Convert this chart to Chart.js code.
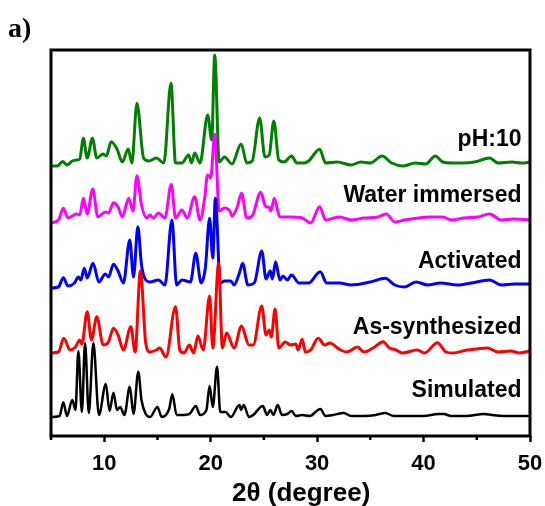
<!DOCTYPE html>
<html>
<head>
<meta charset="utf-8">
<script src="https://cdn.jsdelivr.net/npm/chart.js@4"></script>
<style>
  html, body { margin: 0; padding: 0; background: #fff; }
  canvas { display: block; }
</style>
</head>
<body>
<canvas id="xrd" width="545" height="506"></canvas>
<script>
// 2theta / intensity pairs (intensity in arbitrary units)
const simulated = [[5,0],[5.8,1],[6.16,14.7],[6.5,1],[7.0,17],[7.3,7],[7.57,66],[7.9,5],[8.2,74],[8.55,4],[8.98,74],[9.5,2],[10.15,33],[10.5,6],[10.87,24.3],[11.2,7],[11.5,10],[11.9,2],[12.4,30.3],[12.75,3],[13.2,45.3],[13.5,17],[13.9,3],[14.3,0],[15.0,10],[15.4,0],[16.1,8],[16.4,22.7],[16.8,2],[17.4,2],[18.0,3],[18.6,11],[19.0,2],[19.6,7],[19.9,31],[20.2,10],[20.6,50.3],[20.9,5],[21.4,5],[21.9,0],[22.7,12],[22.85,7],[23.1,12],[23.6,0],[24.0,2],[24.9,11],[25.3,2],[25.6,7],[25.9,2],[26.3,12],[26.7,2],[27.2,3],[27.6,6],[28.0,1],[28.6,2],[29.3,1],[30.3,8],[30.8,1],[31.5,2],[32.5,4],[33.2,1],[34.5,1],[35.5,2],[36.4,4],[37.2,1],[38.5,1],[40,1],[41.4,3],[41.9,3],[42.6,1],[44,1],[45.7,3],[46.4,2],[47.5,1],[50,1]];

const asSynthesized = [[5,1],[5.7,2],[6.2,15.7],[6.8,4],[7.3,7],[7.7,14],[7.9,10],[8.4,42.3],[8.8,14],[9.3,37.3],[9.9,9],[10.4,12],[10.87,25.7],[11.3,19],[11.8,4],[12.5,27.3],[12.9,2],[13.4,83],[13.9,11],[14.3,2],[14.9,4],[15.2,6],[15.8,-3],[16.7,47.3],[17.1,4],[17.5,1],[18.0,9],[18.4,1],[18.8,18],[19.3,4],[19.9,58],[20.2,6],[20.75,90.7],[21.1,6],[21.5,21],[22.2,6],[22.9,28],[23.6,9],[24.0,9],[24.8,48],[25.2,19],[25.5,24],[25.7,17],[26.05,45],[26.4,6],[27.0,12],[27.5,9],[28.0,10],[28.2,4],[28.6,14.7],[28.9,2],[29.4,4],[30.1,15.7],[30.7,9],[31.2,11],[31.8,7],[32.2,4],[32.8,2],[33.8,7],[34.4,2],[35.4,7],[36.2,12.3],[36.8,6],[37.4,4],[38.0,1],[39.4,4],[40.1,1],[41.3,11.3],[42.1,2],[42.7,1],[44.1,4],[45.0,5],[46.0,6],[47.0,2],[48.2,3],[49,1],[50,3]];

const activated = [[5,0],[5.7,1],[6.16,10.3],[6.6,2],[7.2,5],[7.57,11],[7.8,8],[8.13,19.7],[8.4,10],[8.95,24.7],[9.5,6],[10.1,14],[10.4,11],[10.87,23.7],[11.3,17],[11.8,5],[12.4,48],[12.75,11],[13.16,61.3],[13.5,23],[13.9,8],[14.3,6],[15.1,8],[15.7,3],[16.36,68],[16.8,3],[17.3,8],[18.1,6],[18.6,34.7],[19.1,5],[19.5,20],[19.9,69.7],[20.2,30],[20.44,89.7],[20.9,5],[21.3,7],[21.9,7],[22.2,3],[22.7,15],[23.0,24.7],[23.5,3],[24.1,5],[24.8,37],[25.2,9],[25.6,17],[25.8,9],[26.1,26.3],[26.5,8],[26.8,12],[27.2,8],[27.6,13],[28.3,5],[29.2,5],[30.3,16.3],[30.9,5],[32.1,5],[33.2,3],[35.0,6],[36.4,9.7],[37.3,3],[38.2,1],[39.3,6],[40.4,3],[41.6,5],[43.2,3],[44.5,5],[46.2,8],[47.3,3],[48.5,4],[50,4]];

const waterImmersed = [[5,-1],[5.7,2],[6.16,13.7],[6.6,4],[7.0,6],[7.4,8],[7.7,7],[8.04,23.7],[8.4,8],[8.92,33],[9.4,5],[9.8,8],[10.1,10],[10.4,9],[10.87,19.3],[11.3,15],[11.7,5],[12.3,23.7],[12.7,11],[13.07,46.3],[13.5,17],[14.0,4],[14.3,7],[14.6,4],[15.1,9],[15.7,4],[16.3,37.7],[16.7,4],[17.3,12],[17.8,4],[18.5,25.3],[19.0,2],[19.45,25],[19.7,47],[20.0,44],[20.38,87.7],[20.8,11],[21.3,14],[21.8,11],[22.0,6],[22.5,15],[22.9,28.7],[23.4,4],[23.9,6],[24.7,29.7],[25.2,15],[25.5,15],[25.65,11],[25.97,23.7],[26.5,5],[27.5,5],[28.6,4],[29.4,-1],[30.24,15.3],[30.8,2],[31.6,4],[32.1,5],[33.2,2],[34.4,4],[35.7,5],[36.5,8],[37.3,0],[38.2,2],[39.5,4],[40.6,5],[41.8,5],[42.6,2],[43.8,4],[45.1,5],[46.2,8],[47.3,2],[48.5,3],[50,2]];

const pH10 = [[5,0],[5.6,0],[6.1,4.5],[6.5,1],[7.0,5],[7.4,6],[7.7,7],[8.04,27.7],[8.4,8],[8.89,27.7],[9.3,8],[9.9,12],[10.2,10],[10.65,24.3],[11.2,17],[11.7,4],[12.25,17],[12.6,3],[13.07,62.7],[13.7,8],[14.2,5],[14.9,8],[15.6,3],[16.27,82.7],[16.7,3],[17.3,3],[17.93,11],[18.2,3],[18.5,13],[19.0,3],[19.72,51],[20.1,26],[20.38,111],[20.8,4],[21.3,9],[22.0,2],[22.86,22],[23.4,3],[23.9,5],[24.6,48],[25.1,9],[25.5,11],[25.93,45],[26.4,6],[26.9,4],[27.6,10],[28.1,3],[28.8,3],[29.2,5],[30.24,16.7],[30.8,3],[31.9,4],[33.2,1],[34.1,4],[35.0,3],[36.1,10],[37.0,3],[38.1,0],[39.2,3],[40.2,2],[41.1,10],[41.8,4],[42.7,3],[43.7,3],[44.8,4],[46.2,8],[47.0,3],[48.3,4],[49.2,3],[50,4]];

const seriesNames = ['pH:10', 'Water immersed', 'Activated', 'As-synthesized', 'Simulated'];
const seriesData = [pH10, waterImmersed, activated, asSynthesized, simulated];
const seriesColors = ['#008000', '#ff00ff', '#0000ff', '#ff0000', '#000000'];
const stackOffsets = [270, 214, 148, 82, 19];
const labelLift = 26;
const xTicks = [10, 20, 30, 40, 50];
const xMinorTicks = [5, 15, 25, 35, 45];
const xTitle = '2θ (degree)';

const FONT = "'Liberation Sans', Arial, sans-serif";

const decorations = {
    id: 'decorations',
    afterDatasetsDraw(chart) {
        const { ctx, chartArea: a, scales: { x, y } } = chart;
        ctx.save();
        // frame
        ctx.strokeStyle = '#000';
        ctx.lineWidth = 3;
        ctx.strokeRect(a.left, a.top, a.right - a.left, a.bottom - a.top);
        // minor ticks
        ctx.lineWidth = 2.5;
        xMinorTicks.forEach(v => {
            const px = x.getPixelForValue(v);
            ctx.beginPath();
            ctx.moveTo(px, a.bottom);
            ctx.lineTo(px, a.bottom + 4);
            ctx.stroke();
        });
        // sample labels
        ctx.fillStyle = '#000';
        ctx.font = 'bold 23px ' + FONT;
        ctx.textAlign = 'right';
        ctx.textBaseline = 'middle';
        seriesNames.forEach((name, i) => {
            ctx.fillText(name, x.getPixelForValue(49.2), y.getPixelForValue(stackOffsets[i] + labelLift));
        });
        // axis title (sits a little right of centre in the original)
        ctx.font = 'bold 26px ' + FONT;
        ctx.textAlign = 'center';
        ctx.fillText(xTitle, x.getPixelForValue(28.5), 494);
        // panel letter
        ctx.font = "bold 28px 'Liberation Serif', 'Times New Roman', serif";
        ctx.textAlign = 'left';
        ctx.textBaseline = 'alphabetic';
        ctx.fillText('a)', 8, 37);
        ctx.restore();
    }
};

const datasets = seriesData.map((pts, i) => ({
    label: seriesNames[i],
    data: pts.map(p => ({ x: p[0], y: p[1] + stackOffsets[i] })),
    borderColor: seriesColors[i],
    borderWidth: i === 4 ? 2.5 : 3,
    pointRadius: 0,
    fill: false,
    cubicInterpolationMode: 'monotone',
    order: [5, 4, 3, 1, 2][i]
}));

new Chart(document.getElementById('xrd'), {
    type: 'line',
    data: { datasets },
    options: {
        responsive: false,
        animation: false,
        layout: { padding: { left: 51, right: 15, top: 50, bottom: 0 } },
        plugins: { legend: { display: false }, tooltip: { enabled: false } },
        scales: {
            x: {
                type: 'linear',
                min: 5,
                max: 50,
                afterBuildTicks: axis => { axis.ticks = xTicks.map(v => ({ value: v })); },
                afterFit: axis => { axis.height = 70; axis.paddingLeft = 0; axis.paddingRight = 0; },
                grid: { drawOnChartArea: false, drawTicks: true, tickLength: 6, tickColor: '#000', tickWidth: 2.5 },
                border: { display: false },
                ticks: { color: '#000', padding: 13, maxRotation: 0, font: { family: FONT, size: 22, weight: 'bold', lineHeight: 0.8 } },
                title: { display: false }
            },
            y: { display: false, min: 0, max: 386 }
        }
    },
    plugins: [decorations]
});
</script>
</body>
</html>
